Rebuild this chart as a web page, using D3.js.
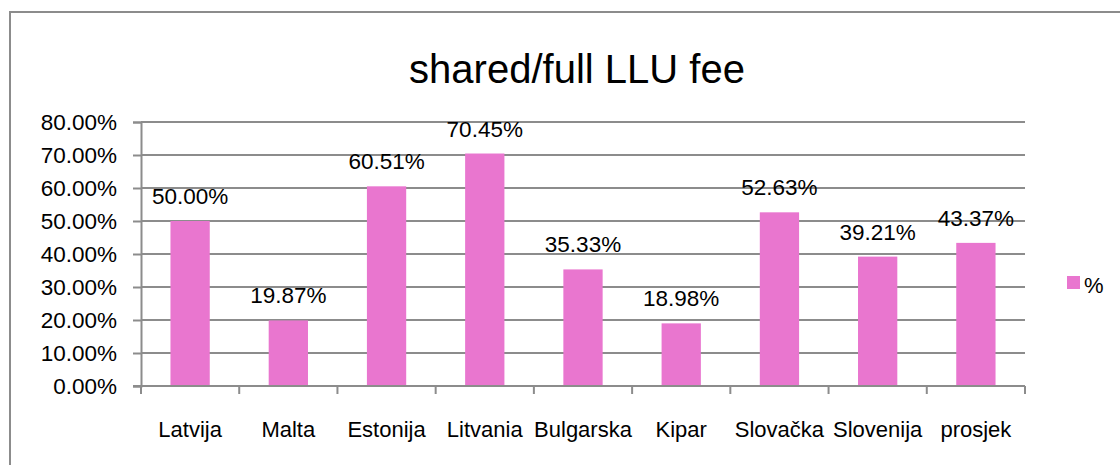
<!DOCTYPE html>
<html>
<head>
<meta charset="utf-8">
<script src="https://cdn.jsdelivr.net/npm/d3@7/dist/d3.min.js"></script>
<style>
  html, body { margin: 0; padding: 0; background: #fff; }
  svg { display: block; font-family: "Liberation Sans", Arial, sans-serif; }
</style>
</head>
<body>
<svg id="chart" width="1120" height="465"></svg>
<script>
const categories = ["Latvija", "Malta", "Estonija", "Litvania", "Bulgarska", "Kipar", "Slovačka", "Slovenija", "prosjek"];
const values = [50.00, 19.87, 60.51, 70.45, 35.33, 18.98, 52.63, 39.21, 43.37];
const yTicks = [0, 10, 20, 30, 40, 50, 60, 70, 80];
const seriesName = "%";
const title = "shared/full LLU fee";

const svg = d3.select("#chart");
const gridColor = "#8c8c8c";
const barColor = "#e976cf";

// outer chart border
svg.append("rect")
  .attr("x", 10).attr("y", 12)
  .attr("width", 1200).attr("height", 600)
  .attr("fill", "none").attr("stroke", "#8c8c8c").attr("stroke-width", 2);

const plot = { left: 141, right: 1025, top: 122, bottom: 386 };

const x = d3.scaleBand()
  .domain(categories)
  .range([plot.left, plot.right])
  .paddingInner(0).paddingOuter(0);

const y = d3.scaleLinear()
  .domain([0, 80])
  .range([plot.bottom, plot.top]);

// title
svg.append("text")
  .attr("x", 577).attr("y", 83)
  .attr("text-anchor", "middle")
  .attr("font-size", 40)
  .attr("fill", "#000")
  .text(title);

// gridlines
svg.append("g")
  .selectAll("line")
  .data(yTicks.filter(d => d > 0))
  .join("line")
  .attr("x1", plot.left).attr("x2", plot.right)
  .attr("y1", d => y(d)).attr("y2", d => y(d))
  .attr("stroke", gridColor).attr("stroke-width", 2);

// y axis
const yAxis = d3.axisLeft(y).tickValues(yTicks).tickSize(8).tickPadding(16)
  .tickFormat(d => d.toFixed(2) + "%");
const gy = svg.append("g").attr("transform", `translate(${plot.left},0)`).call(yAxis);
gy.select(".domain").attr("stroke", gridColor).attr("stroke-width", 2);
gy.selectAll(".tick line").attr("stroke", gridColor).attr("stroke-width", 2);
gy.selectAll(".tick text").attr("font-size", 22.5).attr("fill", "#000")
  .attr("font-family", "Liberation Sans, Arial, sans-serif");

// bars
const barW = x.bandwidth() * 0.4;
svg.append("g")
  .selectAll("rect")
  .data(values)
  .join("rect")
  .attr("x", (d, i) => x(categories[i]) + (x.bandwidth() - barW) / 2)
  .attr("width", barW)
  .attr("y", d => y(d))
  .attr("height", d => y(0) - y(d))
  .attr("fill", barColor);

// x axis baseline and ticks
svg.append("line")
  .attr("x1", plot.left - 8).attr("x2", plot.right)
  .attr("y1", plot.bottom).attr("y2", plot.bottom)
  .attr("stroke", gridColor).attr("stroke-width", 2);
const boundaries = categories.map(c => x(c)).concat([plot.right]);
svg.append("g")
  .selectAll("line")
  .data(boundaries)
  .join("line")
  .attr("x1", d => d).attr("x2", d => d)
  .attr("y1", plot.bottom).attr("y2", plot.bottom + 8)
  .attr("stroke", gridColor).attr("stroke-width", 2);

// x labels
svg.append("g")
  .selectAll("text")
  .data(categories)
  .join("text")
  .attr("x", d => x(d) + x.bandwidth() / 2)
  .attr("y", 437)
  .attr("text-anchor", "middle")
  .attr("font-size", 22)
  .attr("fill", "#000")
  .text(d => d);

// data labels
svg.append("g")
  .selectAll("text")
  .data(values)
  .join("text")
  .attr("x", (d, i) => x(categories[i]) + x.bandwidth() / 2)
  .attr("y", d => y(d) - 17)
  .attr("text-anchor", "middle")
  .attr("font-size", 22.5)
  .attr("fill", "#000")
  .text(d => d.toFixed(2) + "%");

// legend
svg.append("rect")
  .attr("x", 1067).attr("y", 276).attr("width", 13).attr("height", 13)
  .attr("fill", barColor);
svg.append("text")
  .attr("x", 1084).attr("y", 293)
  .attr("font-size", 22)
  .attr("fill", "#000")
  .text(seriesName);
</script>
</body>
</html>
